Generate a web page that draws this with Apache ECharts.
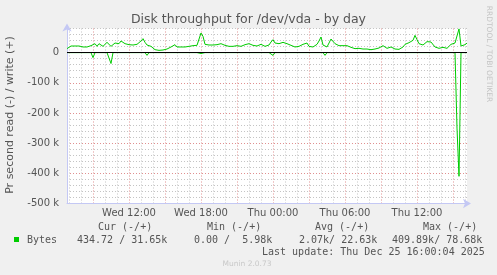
<!DOCTYPE html>
<html>
<head>
<meta charset="utf-8">
<script src="https://cdn.jsdelivr.net/npm/echarts@6/dist/echarts.min.js"></script>
<style>
html,body{margin:0;padding:0;background:#f0f0f0;}
#c{width:497px;height:275px;}
</style>
</head>
<body>
<div id="c"></div>
<script>
// time axis: hours since Wed 00:00, one sample every 10 minutes from Wed 06:50
const startHour = 6 + 50 / 60;
const stepHours = 10 / 60;
const endHour = 40 + 10 / 60;
const xLabelHours = [12, 18, 24, 30, 36];
const xLabels = ['Wed 12:00', 'Wed 18:00', 'Thu 00:00', 'Thu 06:00', 'Thu 12:00'];
const gridHours = [7,8,9,10,11,12,13,14,15,16,17,18,19,20,21,22,23,24,25,26,27,28,29,30,31,32,33,34,35,36,37,38,39,40];

// write (+) bytes per second, in k
const writeK = [
13.2, 19.8, 22.0, 23.1, 22.0, 20.9, 22.0, 19.8, 18.7, 19.8,
18.7, 16.5, 23.1, 25.3, 29.7, 20.9, 29.7, 31.9, 20.9, 27.5,
34.1, 36.4, 20.9, 25.3, 31.9, 36.4, 29.7, 38.6, 36.4, 29.7,
31.9, 26.4, 29.7, 25.3, 31.9, 27.5, 27.5, 38.6, 46.3, 34.1,
25.3, 20.9, 20.9, 14.3, 9.8, 9.8, 7.6, 9.8, 8.7, 7.6,
12.0, 14.3, 18.7, 23.1, 26.4, 18.7, 16.5, 18.7, 20.9, 18.7,
18.7, 20.9, 22.0, 23.1, 23.1, 24.2, 27.5, 65.1, 54.0, 27.5,
29.7, 25.3, 31.9, 25.3, 27.5, 26.4, 23.1, 29.7, 25.3, 24.2,
23.1, 20.9, 18.7, 20.9, 22.0, 23.1, 19.8, 20.9, 25.3, 26.4,
27.5, 29.7, 25.3, 24.2, 20.9, 22.0, 23.1, 27.5, 25.3, 20.9,
18.7, 25.3, 35.2, 43.0, 31.9, 27.5, 29.7, 30.8, 34.1, 27.5,
29.7, 31.9, 24.2, 22.0, 18.7, 20.9, 20.9, 23.1, 27.5, 29.7,
31.9, 20.9, 16.5, 18.7, 20.9, 27.5, 38.6, 51.8, 25.3, 18.7,
18.7, 31.9, 45.2, 40.8, 29.7, 25.3, 23.1, 20.9, 23.1, 27.5,
23.1, 20.9, 17.6, 15.4, 13.2, 14.3, 14.3, 12.0, 12.0, 9.8,
12.0, 12.0, 9.8, 10.9, 12.0, 13.2, 15.4, 18.7, 23.1, 16.5,
14.3, 16.5, 18.7, 14.3, 12.0, 9.8, 10.9, 14.3, 18.7, 27.5,
29.7, 33.0, 35.2, 40.8, 57.3, 43.0, 29.7, 23.1, 25.3, 31.9,
36.4, 34.1, 35.2, 38.6, 18.7, 16.5, 14.3, 19.8, 17.6, 15.4,
14.3, 18.7, 27.5, 27.5, 31.9, 34.1, 78.68, 22.0, 24.2, 26.4,
31.65
];

// read (-) bytes per second, in k: zero except these samples
const readDipSample = [13, 22, 40, 67, 96, 103, 129, 167, 195, 196];
const readDipK = [16.6, 36.0, 9.0, 3.0, 3.0, 9.0, 9.0, 3.0, 250.0, 409.89];

const writeData = writeK.map((v, i) => [startHour + i * stepHours, v * 1000]);
const readFull = writeK.map(() => 0);
readDipSample.forEach((s, j) => { readFull[s] = readDipK[j]; });
const readData = readFull.map((v, i) => [startHour + i * stepHours, -v * 1000]);

const GRID_MINOR = '#c4c4c4';
const GRID_MAJOR = '#e09090';
const AXIS_COL = '#c4c8f4';
const TXT = '#555';
const SANS = '"DejaVu Sans", sans-serif';
const MONO = '"DejaVu Sans Mono", monospace';

function txt(x, y, s, opt) {
  opt = opt || {};
  return {
    type: 'text', x: x, y: y, rotation: opt.rot || 0, silent: true,
    style: {
      text: s, font: opt.font || ('10px ' + MONO), fill: opt.fill || TXT,
      align: opt.align || 'left', textAlign: opt.align || 'left',
      verticalAlign: 'middle', textVerticalAlign: 'middle'
    }
  };
}

const chart = echarts.init(document.getElementById('c'), null, {renderer: 'canvas'});
chart.setOption({
  animation: false,
  backgroundColor: '#f0f0f0',
  title: {
    text: 'Disk throughput for /dev/vda - by day',
    left: 'center', top: 13, padding: 0,
    textStyle: {fontSize: 12.5, fontWeight: 'normal', color: TXT, fontFamily: SANS}
  },
  grid: {left: 67, top: 28.5, width: 400, height: 175, show: true, backgroundColor: '#ffffff', borderWidth: 0},
  xAxis: [{
    type: 'value', min: startHour, max: endHour,
    axisLine: {show: true, onZero: false, lineStyle: {color: AXIS_COL, width: 1}, symbol: ['none', 'arrow'], symbolSize: [7, 8], symbolOffset: [0, 4]},
    axisTick: {show: false, customValues: gridHours},
    axisLabel: {customValues: xLabelHours, formatter: v => xLabels[xLabelHours.indexOf(v)] || '', color: TXT, fontSize: 10, fontFamily: SANS, margin: 5},
    splitLine: {show: true, lineStyle: {color: [GRID_MINOR, GRID_MINOR, GRID_MAJOR], type: [1, 2], width: 1}}
  }],
  yAxis: [{
    type: 'value', min: -500000, max: 80000, interval: 20000,
    axisLine: {show: true, onZero: false, lineStyle: {color: AXIS_COL, width: 1}, symbol: ['none', 'arrow'], symbolSize: [7, 8], symbolOffset: [0, 5]},
    axisTick: {show: false},
    axisLabel: {
      formatter: v => (v % 100000 === 0 ? (v === 0 ? '0' : (v / 1000) + ' k') : ''),
      color: TXT, fontSize: 10, fontFamily: SANS, margin: 8
    },
    splitLine: {show: true, lineStyle: {color: [GRID_MAJOR, GRID_MINOR, GRID_MINOR, GRID_MINOR, GRID_MINOR], type: [1, 2], width: 1}}
  }],
  series: [
    {type: 'line', name: 'read', data: readData, showSymbol: false, symbol: 'none',
     lineStyle: {color: '#00cc00', width: 1}, itemStyle: {color: '#00cc00'}},
    {type: 'line', name: 'write', data: writeData, showSymbol: false, symbol: 'none',
     lineStyle: {color: '#00cc00', width: 1}, itemStyle: {color: '#00cc00'},
     markLine: {silent: true, symbol: 'none', label: {show: false}, animation: false,
       lineStyle: {color: '#000000', type: 'solid', width: 1}, data: [{yAxis: 0}]}}
  ],
  graphic: [
    txt(10, 115, 'Pr second read (-) / write (+)', {rot: Math.PI / 2, align: 'center', font: '11px ' + SANS}),
    txt(489, 54, 'RRDTOOL / TOBI OETIKER', {rot: -Math.PI / 2, align: 'center', font: '7.5px ' + SANS, fill: '#c4c4c4'}),
    txt(98, 227, 'Cur (-/+)'),
    txt(207, 227, 'Min (-/+)'),
    txt(315, 227, 'Avg (-/+)'),
    txt(423, 227, 'Max (-/+)'),
    {type: 'rect', shape: {x: 14, y: 237, width: 5, height: 5}, style: {fill: '#00cc00'}, silent: true},
    txt(27, 240, 'Bytes'),
    txt(77, 240, '434.72 / 31.65k'),
    txt(194, 240, '0.00 /  5.98k'),
    txt(299, 240, '2.07k/ 22.63k'),
    txt(392, 240, '409.89k/ 78.68k'),
    txt(262, 252, 'Last update: Thu Dec 25 16:00:04 2025'),
    txt(247, 264, 'Munin 2.0.73', {align: 'center', font: '7.5px ' + SANS, fill: '#c8c8c8'})
  ]
});
</script>
</body>
</html>
